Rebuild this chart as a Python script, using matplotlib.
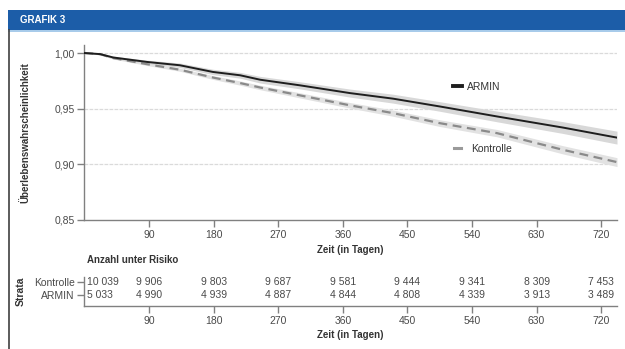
import matplotlib
matplotlib.use('Agg')
import matplotlib.pyplot as plt
from matplotlib.lines import Line2D
from matplotlib.patches import Rectangle

plt.rcParams['font.family'] = ['Liberation Sans', 'DejaVu Sans']

# Data
days = [0, 22, 40, 87, 133, 179, 217, 245, 300, 370, 430, 495, 575, 667, 742]
armin_surv = [1.000, 0.999, 0.996, 0.992, 0.989, 0.983, 0.980, 0.976, 0.971, 0.964, 0.959, 0.952, 0.943, 0.933, 0.924]
kontr_surv = [1.000, 0.999, 0.9955, 0.990, 0.985, 0.978, 0.973, 0.969, 0.962, 0.953, 0.946, 0.937, 0.928, 0.913, 0.902]
armin_ci = [0, 0.0008, 0.0012, 0.0016, 0.002, 0.0024, 0.0026, 0.003, 0.0032, 0.0036, 0.004, 0.0043, 0.0048, 0.0053, 0.0058]
kontr_ci = [0, 0.0006, 0.0009, 0.0012, 0.0014, 0.0017, 0.0019, 0.002, 0.0023, 0.0025, 0.0028, 0.003, 0.0033, 0.0037, 0.004]

risk_days = [0, 90, 180, 270, 360, 450, 540, 630, 720]
risk_kontrolle = ['10 039', '9 906', '9 803', '9 687', '9 581', '9 444', '9 341', '8 309', '7 453']
risk_armin = ['5 033', '4 990', '4 939', '4 887', '4 844', '4 808', '4 339', '3 913', '3 489']
strata = ['ARMIN', 'Kontrolle']

y_ticks = [0.85, 0.90, 0.95, 1.00]
x_ticks = [90, 180, 270, 360, 450, 540, 630, 720]

txt = '#4a4a4a'
spine_c = '#808080'
W, H = 625, 349

fig = plt.figure(figsize=(6.25, 3.49), dpi=100, facecolor='white')

# header bar and frame
fig.patches.append(Rectangle((8 / W, 1 - 30 / H), 1 - 8 / W, 20 / H, transform=fig.transFigure,
                             facecolor='#1c5da8', edgecolor='none'))
fig.patches.append(Rectangle((8 / W, 1 - 31.5 / H), 1 - 8 / W, 1.5 / H, transform=fig.transFigure,
                             facecolor='#a8cbea', edgecolor='none'))
fig.lines.append(Line2D([8.5 / W, 8.5 / W], [0, 1 - 30 / H], transform=fig.transFigure, color='#404040', lw=1.2))
fig.text(20 / W, 1 - 20 / H, 'GRAFIK 3', color='white', fontsize=7, fontweight='bold', va='center')


def style(ax):
    for s in ['top', 'right']:
        ax.spines[s].set_visible(False)
    for s in ['left', 'bottom']:
        ax.spines[s].set_color(spine_c)
        ax.spines[s].set_linewidth(1.0)
    ax.tick_params(colors=spine_c, labelcolor=txt, labelsize=7.5, length=5, width=1.0, pad=2)


# main survival plot
ax = fig.add_axes([84.4 / W, 1 - 220 / H, (617 - 84.4) / W, 175 / H])
style(ax)
ax.set_xlim(0, 742)
ax.set_ylim(0.85, 1.0072)
ax.set_yticks(y_ticks)
ax.set_yticklabels([f'{v:.2f}'.replace('.', ',') for v in y_ticks])
ax.set_xticks(x_ticks)
ax.set_xticklabels([str(v) for v in x_ticks])
for v in y_ticks[1:]:
    ax.axhline(v, color='#dadada', lw=0.9, ls=(0, (3, 1)), zorder=0)

ax.fill_between(days, [s - c for s, c in zip(kontr_surv, kontr_ci)], [s + c for s, c in zip(kontr_surv, kontr_ci)],
                color='#e2e2e2', lw=0, zorder=1)
ax.fill_between(days, [s - c for s, c in zip(armin_surv, armin_ci)], [s + c for s, c in zip(armin_surv, armin_ci)],
                color='#d8d8d8', lw=0, zorder=1)
ax.plot(days, kontr_surv, color='#8a8a8a', lw=1.6, ls=(0, (4, 2.5)), zorder=2)
ax.plot(days, armin_surv, color='#1e1e1e', lw=1.4, zorder=3)

ax.set_xlabel('Zeit (in Tagen)', fontsize=7, fontweight='bold', color='#333333', labelpad=4)
ax.set_ylabel('Überlebenswahrscheinlichkeit', fontsize=7, fontweight='bold', color='#333333', labelpad=17)

leg1 = ax.legend([Line2D([], [], color='#1e1e1e', lw=2.8)], ['ARMIN'], loc='center left',
                 bbox_to_anchor=(0.683, 0.76), frameon=False, fontsize=7.5, handlelength=0.8,
                 handletextpad=0.5, borderpad=0, labelcolor='#333333')
ax.add_artist(leg1)
ax.legend([Line2D([], [], color='#9a9a9a', lw=2.2)], ['Kontrolle'], loc='center left',
          bbox_to_anchor=(0.685, 0.406), frameon=False, fontsize=7.5, handlelength=0.6,
          handletextpad=1.0, borderpad=0, labelcolor='#333333')

# risk table
axr = fig.add_axes([84.4 / W, 1 - 306 / H, (617 - 84.4) / W, 29 / H])
style(axr)
axr.set_xlim(0, 742)
axr.set_ylim(-0.85, 1.38)
axr.set_yticks([0, 1])
axr.set_yticklabels(strata)
axr.set_xticks(x_ticks)
axr.set_xticklabels([str(v) for v in x_ticks])
for row, vals in ((1, risk_kontrolle), (0, risk_armin)):
    for d, v in zip(risk_days, vals):
        if d == 0:
            axr.annotate(v, (d, row), xytext=(2, 0), textcoords='offset points', ha='left', va='center',
                         fontsize=7.5, color=txt)
        else:
            axr.text(d, row, v, ha='center', va='center', fontsize=7.5, color=txt)
axr.set_xlabel('Zeit (in Tagen)', fontsize=7, fontweight='bold', color='#333333', labelpad=3)
axr.set_ylabel('Strata', fontsize=7.5, fontweight='bold', color='#333333', labelpad=6)
fig.text(87 / W, 1 - 260 / H, 'Anzahl unter Risiko', fontsize=7, fontweight='bold', color='#333333', va='center')

fig.savefig('out.png', dpi=100, facecolor='white')
